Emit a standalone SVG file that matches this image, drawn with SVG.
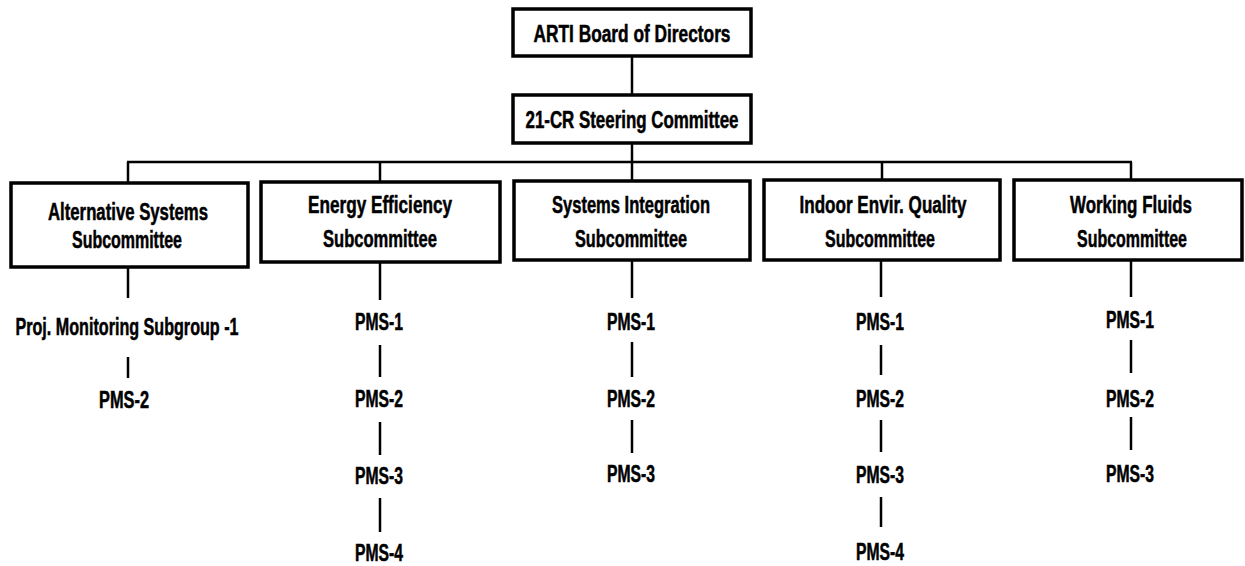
<svg xmlns="http://www.w3.org/2000/svg" width="1245" height="566" viewBox="0 0 1245 566">
<style>
.box{fill:#fff;stroke:#000;stroke-width:3.5}
.ln{stroke:#000;stroke-width:2.5;fill:none}
text{font-family:"Liberation Sans",Arial,sans-serif;font-weight:bold;font-size:23px;fill:#000;stroke:#000;stroke-width:0.5;text-anchor:middle}
</style>
<rect width="1245" height="566" fill="#fff"/>
<g id="connectors">
<line class="ln" x1="632" y1="56" x2="632" y2="95"/>
<line class="ln" x1="632" y1="143" x2="632" y2="162"/>
<line class="ln" x1="127" y1="162" x2="1132" y2="162"/>
<line class="ln" x1="128" y1="162" x2="128" y2="183"/>
<line class="ln" x1="380" y1="162" x2="380" y2="182"/>
<line class="ln" x1="632" y1="162" x2="632" y2="181"/>
<line class="ln" x1="882" y1="162" x2="882" y2="180"/>
<line class="ln" x1="1131" y1="162" x2="1131" y2="180"/>
<line class="ln" x1="128" y1="267" x2="128" y2="298"/>
<line class="ln" x1="128" y1="357" x2="128" y2="378"/>
<line class="ln" x1="380" y1="262" x2="380" y2="300"/>
<line class="ln" x1="380" y1="345" x2="380" y2="377"/>
<line class="ln" x1="380" y1="422" x2="380" y2="455"/>
<line class="ln" x1="380" y1="498" x2="380" y2="532"/>
<line class="ln" x1="632" y1="260" x2="632" y2="298"/>
<line class="ln" x1="632" y1="342" x2="632" y2="377"/>
<line class="ln" x1="632" y1="420" x2="632" y2="453"/>
<line class="ln" x1="881" y1="260" x2="881" y2="297"/>
<line class="ln" x1="881" y1="345" x2="881" y2="375"/>
<line class="ln" x1="881" y1="420" x2="881" y2="452"/>
<line class="ln" x1="881" y1="497" x2="881" y2="527"/>
<line class="ln" x1="1131" y1="260" x2="1131" y2="297"/>
<line class="ln" x1="1131" y1="340" x2="1131" y2="373"/>
<line class="ln" x1="1131" y1="417" x2="1131" y2="450"/>
</g>
<g id="board">
<rect class="box" x="513" y="9" width="238" height="47"/>
<text x="632" y="42" textLength="197" lengthAdjust="spacingAndGlyphs">ARTI Board of Directors</text>
</g>
<g id="steering">
<rect class="box" x="513" y="95" width="238" height="48"/>
<text x="632" y="128" textLength="213" lengthAdjust="spacingAndGlyphs">21-CR Steering Committee</text>
</g>
<g id="alt">
<rect class="box" x="11" y="183" width="237" height="84"/>
<text x="128" y="220" textLength="160" lengthAdjust="spacingAndGlyphs">Alternative Systems</text>
<text x="127" y="248" textLength="110" lengthAdjust="spacingAndGlyphs">Subcommittee</text>
</g>
<g id="energy">
<rect class="box" x="261" y="182" width="239" height="80"/>
<text x="380" y="213" textLength="144" lengthAdjust="spacingAndGlyphs">Energy Efficiency</text>
<text x="380" y="247" textLength="114" lengthAdjust="spacingAndGlyphs">Subcommittee</text>
</g>
<g id="sysint">
<rect class="box" x="514" y="181" width="236" height="79"/>
<text x="631" y="213" textLength="158" lengthAdjust="spacingAndGlyphs">Systems Integration</text>
<text x="631" y="247" textLength="112" lengthAdjust="spacingAndGlyphs">Subcommittee</text>
</g>
<g id="indoor">
<rect class="box" x="764" y="180" width="236" height="80"/>
<text x="883" y="213" textLength="167" lengthAdjust="spacingAndGlyphs">Indoor Envir. Quality</text>
<text x="880" y="247" textLength="110" lengthAdjust="spacingAndGlyphs">Subcommittee</text>
</g>
<g id="fluids">
<rect class="box" x="1014" y="180" width="228" height="80"/>
<text x="1131" y="213" textLength="122" lengthAdjust="spacingAndGlyphs">Working Fluids</text>
<text x="1132" y="247" textLength="110" lengthAdjust="spacingAndGlyphs">Subcommittee</text>
</g>
<g id="alt-items">
<text x="127" y="335" textLength="223" lengthAdjust="spacingAndGlyphs">Proj. Monitoring Subgroup -1</text>
<text x="124" y="408" textLength="50" lengthAdjust="spacingAndGlyphs">PMS-2</text>
</g>
<g id="energy-items">
<text x="379" y="330" textLength="48" lengthAdjust="spacingAndGlyphs">PMS-1</text>
<text x="379" y="407" textLength="48" lengthAdjust="spacingAndGlyphs">PMS-2</text>
<text x="379" y="484" textLength="48" lengthAdjust="spacingAndGlyphs">PMS-3</text>
<text x="379" y="561" textLength="48" lengthAdjust="spacingAndGlyphs">PMS-4</text>
</g>
<g id="sysint-items">
<text x="631" y="330" textLength="48" lengthAdjust="spacingAndGlyphs">PMS-1</text>
<text x="631" y="407" textLength="48" lengthAdjust="spacingAndGlyphs">PMS-2</text>
<text x="631" y="482" textLength="48" lengthAdjust="spacingAndGlyphs">PMS-3</text>
</g>
<g id="indoor-items">
<text x="880" y="330" textLength="48" lengthAdjust="spacingAndGlyphs">PMS-1</text>
<text x="880" y="407" textLength="48" lengthAdjust="spacingAndGlyphs">PMS-2</text>
<text x="880" y="483" textLength="48" lengthAdjust="spacingAndGlyphs">PMS-3</text>
<text x="880" y="560" textLength="48" lengthAdjust="spacingAndGlyphs">PMS-4</text>
</g>
<g id="fluids-items">
<text x="1130" y="328" textLength="48" lengthAdjust="spacingAndGlyphs">PMS-1</text>
<text x="1130" y="407" textLength="48" lengthAdjust="spacingAndGlyphs">PMS-2</text>
<text x="1130" y="482" textLength="48" lengthAdjust="spacingAndGlyphs">PMS-3</text>
</g>
</svg>
